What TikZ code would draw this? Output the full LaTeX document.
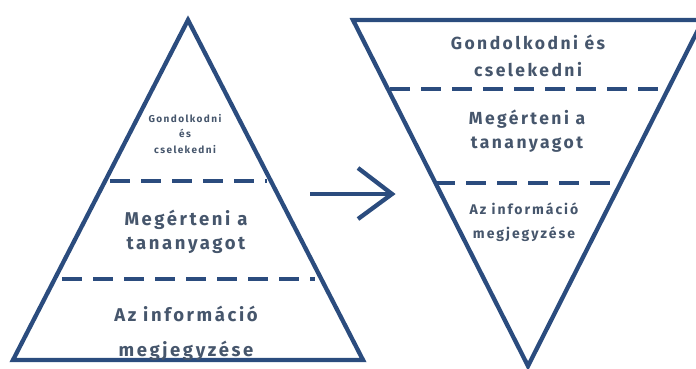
\documentclass[tikz,border=0pt]{standalone}
\usepackage{fontspec}
\setmainfont[LetterSpace=14]{Fira Sans}
\definecolor{linec}{HTML}{2B4C7E}
\definecolor{textc}{HTML}{46566C}
\begin{document}
\begin{tikzpicture}[x=1pt,y=-1pt,
  tri/.style={draw=linec,line width=4.3pt,line join=miter},
  sep/.style={draw=linec,line width=4.3pt,dash pattern=on 20pt off 11pt},
  lbl/.style={text=textc,align=center,inner sep=0pt,font=\bfseries}]
\useasboundingbox (0,0) rectangle (696,369);
% left pyramid
\coordinate (LA) at (188,20);
\coordinate (LL) at (13,360);
\coordinate (LR) at (363,360);
\draw[tri] (LA) -- (LR) -- (LL) -- cycle;
\coordinate (l1a) at (110,181); \coordinate (l1b) at (267,181);
\coordinate (l2a) at (62,279); \coordinate (l2b) at (315,279);
\draw[sep] (l1a) -- (l1b);
\draw[sep] (l2a) -- (l2b);
\node[lbl,font=\fontsize{10}{15.5}\selectfont\bfseries] (lt) at (185,134) {Gondolkodni\\és\\cselekedni};
\node[lbl,font=\fontsize{18.5}{24}\selectfont\bfseries] (lm) at (186,232) {Megérteni a\\tananyagot};
\node[lbl,font=\fontsize{18.5}{35}\selectfont\bfseries] (lb) at (186,333) {Az információ\\megjegyzése};
% right inverted pyramid
\coordinate (RL) at (353,20);
\coordinate (RR) at (703,20);
\coordinate (RA) at (528,366);
\draw[tri] (RL) -- (RR) -- (RA) -- cycle;
\coordinate (r1a) at (390,89); \coordinate (r1b) at (667,89);
\coordinate (r2a) at (435,183); \coordinate (r2b) at (620,183);
\draw[sep] (r1a) -- (r1b);
\draw[sep] (r2a) -- (r2b);
\node[lbl,font=\fontsize{17.5}{27}\selectfont\bfseries] (rt) at (528,56) {Gondolkodni és\\cselekedni};
\node[lbl,font=\fontsize{17.5}{24}\selectfont\bfseries] (rm) at (527,131) {Megérteni a\\tananyagot};
\node[lbl,font=\fontsize{14}{24}\selectfont\bfseries] (rb) at (524,222) {Az információ\\megjegyzése};
% arrow
\coordinate (as) at (310,194);
\coordinate (at) at (392,194);
\coordinate (au) at (358,168);
\coordinate (ad) at (358,219);
\draw[draw=linec,line width=4.3pt] (as) -- (at);
\draw[draw=linec,line width=4.3pt,line join=miter] (au) -- (at) -- (ad);
\end{tikzpicture}
\end{document}
